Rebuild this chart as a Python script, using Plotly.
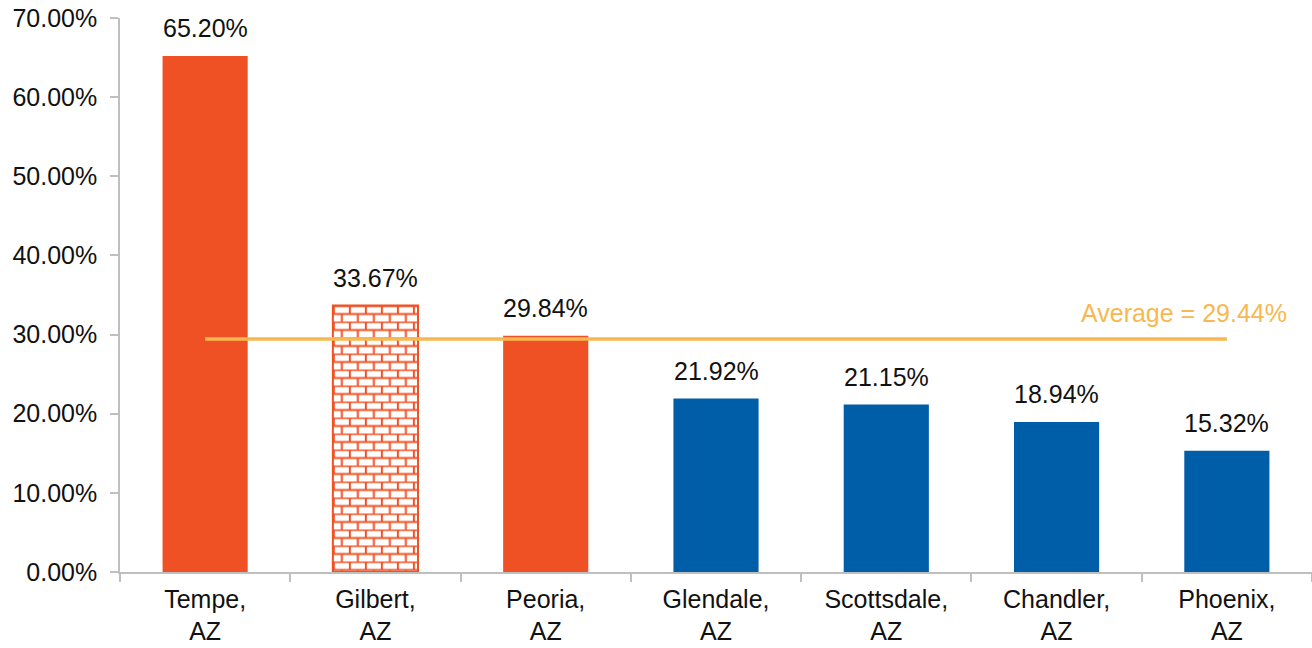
import base64
import plotly.graph_objects as go

# Share of something by city, with the mean drawn across all bars
cities = ["Tempe,<br>AZ", "Gilbert,<br>AZ", "Peoria,<br>AZ", "Glendale,<br>AZ",
          "Scottsdale,<br>AZ", "Chandler,<br>AZ", "Phoenix,<br>AZ"]
values = [65.20, 33.67, 29.84, 21.92, 21.15, 18.94, 15.32]
average = 29.44
y_ticks = [0, 10, 20, 30, 40, 50, 60, 70]

ORANGE = "#F05124"
BLUE = "#005DA8"
GOLD = "#F9B84F"
GRID = "#BFBFBF"
FONT = "Liberation Sans"
FS = 25

# bar styling: Gilbert uses an outlined brick texture
bar_colors = [ORANGE, "rgba(0,0,0,0)", ORANGE, BLUE, BLUE, BLUE, BLUE]
line_colors = [ORANGE, ORANGE, ORANGE, BLUE, BLUE, BLUE, BLUE]
line_widths = [0, 2, 0, 0, 0, 0, 0]
brick_index = 1

W, H = 1312, 648
M_L, M_R, M_T, M_B = 120, 0, 18, 76
Y_MAX = 70
BAR_WIDTH = 0.5

plot_w = W - M_L - M_R
plot_h = H - M_T - M_B

fig = go.Figure()
fig.add_trace(go.Bar(
    x=list(range(len(cities))), y=values, width=BAR_WIDTH,
    marker=dict(color=bar_colors, line=dict(color=line_colors, width=line_widths)),
    hoverinfo="skip", showlegend=False,
))

# mean line spanning first to last category
fig.add_trace(go.Scatter(
    x=list(range(len(cities))), y=[average] * len(cities), mode="lines",
    line=dict(color=GOLD, width=3.5), hoverinfo="skip", showlegend=False,
))

# value labels above bars
for i, v in enumerate(values):
    fig.add_annotation(x=i, y=v, text=f"{v:.2f}%", showarrow=False,
                       yanchor="bottom", yshift=12,
                       font=dict(family=FONT, size=FS, color="#111111"))

fig.add_annotation(x=len(cities) - 1, y=average, text=f"Average = {average:.2f}%",
                   showarrow=False, xanchor="right", yanchor="bottom",
                   xshift=62, yshift=10,
                   font=dict(family=FONT, size=FS, color=GOLD))

# brick texture tile sized to the Gilbert bar in pixels
bw = BAR_WIDTH * plot_w / len(cities)
bh = values[brick_index] * plot_h / Y_MAX
svg = (
    f'<svg xmlns="http://www.w3.org/2000/svg" width="{bw:.1f}" height="{bh:.1f}" '
    f'viewBox="0 0 {bw:.1f} {bh:.1f}" preserveAspectRatio="none">'
    '<defs><pattern id="b" width="16" height="16" patternUnits="userSpaceOnUse">'
    f'<path d="M0 0.5H16M0 8.5H16M1 0V8M9 8V16" stroke="{ORANGE}" stroke-width="2" fill="none"/>'
    '</pattern></defs>'
    f'<rect width="{bw:.1f}" height="{bh:.1f}" fill="white"/>'
    f'<rect width="{bw:.1f}" height="{bh:.1f}" fill="url(#b)"/>'
    '</svg>'
)
src = "data:image/svg+xml;base64," + base64.b64encode(svg.encode()).decode()
fig.add_layout_image(dict(
    source=src, xref="x", yref="y",
    x=brick_index - BAR_WIDTH / 2, y=values[brick_index],
    sizex=BAR_WIDTH, sizey=values[brick_index],
    xanchor="left", yanchor="top", sizing="stretch", layer="below",
))

fig.update_layout(
    width=W, height=H,
    margin=dict(l=M_L, r=M_R, t=M_T, b=M_B),
    paper_bgcolor="white", plot_bgcolor="white",
    font=dict(family=FONT, size=FS, color="#111111"),
    bargap=0.5,
)
fig.update_xaxes(
    range=[-0.5, len(cities) - 0.5], automargin=False,
    tickmode="array", tickvals=list(range(len(cities))), ticktext=cities,
    showgrid=False, zeroline=False,
    showline=True, linecolor=GRID, linewidth=1.5,
    ticks="", ticklabelstandoff=4,
    tickfont=dict(family=FONT, size=FS, color="#111111"),
)
# category boundary ticks via minor ticks at half positions
fig.update_xaxes(minor=dict(tickmode="array",
                            tickvals=[i - 0.5 for i in range(len(cities) + 1)],
                            ticks="outside", ticklen=8, tickcolor=GRID, tickwidth=1.5))
fig.update_yaxes(
    range=[0, Y_MAX], tickmode="array", tickvals=y_ticks, automargin=False,
    ticktext=[f"{t:.2f}%" for t in y_ticks],
    showgrid=False, zeroline=False,
    showline=True, linecolor=GRID, linewidth=1.5,
    ticks="outside", ticklen=8, tickcolor=GRID, tickwidth=1.5,
    ticklabelstandoff=8,
    tickfont=dict(family=FONT, size=FS, color="#111111"),
)

fig.write_html("out.html")
